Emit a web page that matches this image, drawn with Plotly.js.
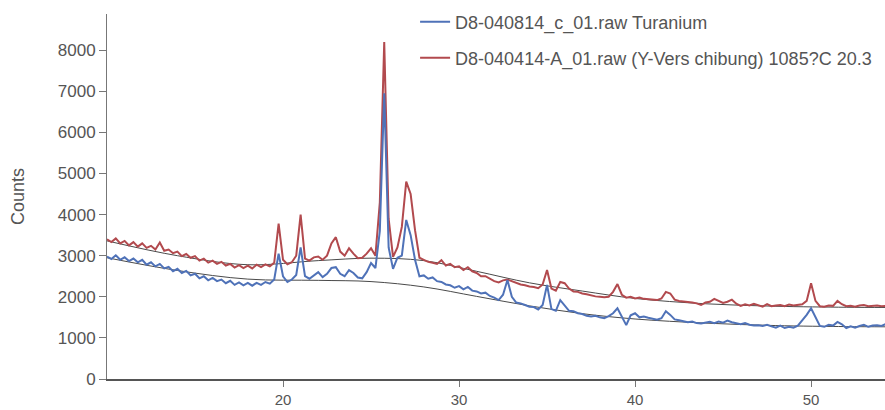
<!DOCTYPE html>
<html>
<head>
<meta charset="utf-8">
<script src="https://cdn.plot.ly/plotly-3.0.1.min.js"></script>
<style>html,body{margin:0;padding:0;background:#fff;}#chart{width:885px;height:410px;}</style>
</head>
<body>
<div id="chart"></div>
<script>
// 2-theta sampling grid (degrees)
const twoTheta = [
10.00,10.25,10.50,10.75,11.00,11.25,11.50,11.75,12.00,12.25,12.50,12.75,13.00,13.25,13.50,13.75,
14.00,14.25,14.50,14.75,15.00,15.25,15.50,15.75,16.00,16.25,16.50,16.75,17.00,17.25,17.50,17.75,
18.00,18.25,18.50,18.75,19.00,19.25,19.50,19.75,20.00,20.25,20.50,20.75,21.00,21.25,21.50,21.75,
22.00,22.25,22.50,22.75,23.00,23.25,23.50,23.75,24.00,24.25,24.50,24.75,25.00,25.25,25.50,25.75,
26.00,26.25,26.50,26.75,27.00,27.25,27.50,27.75,28.00,28.25,28.50,28.75,29.00,29.25,29.50,29.75,
30.00,30.25,30.50,30.75,31.00,31.25,31.50,31.75,32.00,32.25,32.50,32.75,33.00,33.25,33.50,33.75,
34.00,34.25,34.50,34.75,35.00,35.25,35.50,35.75,36.00,36.25,36.50,36.75,37.00,37.25,37.50,37.75,
38.00,38.25,38.50,38.75,39.00,39.25,39.50,39.75,40.00,40.25,40.50,40.75,41.00,41.25,41.50,41.75,
42.00,42.25,42.50,42.75,43.00,43.25,43.50,43.75,44.00,44.25,44.50,44.75,45.00,45.25,45.50,45.75,
46.00,46.25,46.50,46.75,47.00,47.25,47.50,47.75,48.00,48.25,48.50,48.75,49.00,49.25,49.50,49.75,
50.00,50.25,50.50,50.75,51.00,51.25,51.50,51.75,52.00,52.25,52.50,52.75,53.00,53.25,53.50,53.75,
54.00,54.25
];
// D8-040814_c_01.raw Turanium
const countsBlue = [
2980,2920,3010,2900,2960,2870,2930,2840,2900,2780,2840,2740,2800,2690,2730,2620,
2680,2580,2630,2520,2560,2450,2500,2400,2460,2380,2420,2330,2390,2290,2350,2280,
2340,2270,2340,2290,2360,2320,2420,3050,2500,2360,2420,2530,3200,2500,2440,2520,
2600,2480,2560,2700,2720,2560,2500,2650,2580,2470,2450,2600,2820,2700,3600,6950,
3200,2680,2950,3000,3870,3500,2900,2500,2520,2440,2470,2380,2360,2300,2280,2220,
2260,2180,2240,2150,2130,2080,2100,2020,1980,1920,2050,2410,2000,1860,1840,1800,
1760,1750,1690,1800,2290,1700,1660,1920,1780,1660,1650,1600,1580,1540,1520,1540,
1500,1480,1530,1600,1720,1500,1310,1550,1600,1500,1520,1490,1460,1440,1480,1650,
1560,1450,1430,1400,1380,1400,1360,1350,1370,1390,1360,1400,1370,1420,1380,1350,
1330,1360,1320,1300,1310,1290,1320,1280,1250,1300,1240,1270,1250,1300,1420,1560,
1720,1500,1290,1270,1320,1300,1390,1330,1240,1280,1250,1290,1320,1270,1300,1310,
1290,1340
];
// D8-040414-A_01.raw (Y-Verschibung)
const countsRed = [
3400,3330,3420,3300,3360,3250,3330,3220,3300,3190,3240,3150,3320,3120,3150,3060,
3100,2990,3040,2950,2990,2880,2930,2830,2880,2800,2850,2760,2800,2710,2770,2700,
2760,2690,2780,2720,2790,2740,2830,3780,2900,2790,2840,3000,4000,2930,2880,2960,
2980,2900,3000,3300,3450,3100,3000,3180,3050,2940,2950,3050,3180,3000,4300,8200,
3900,2970,3200,3700,4800,4500,3620,2950,2900,2850,2830,2800,2890,2760,2800,2720,
2740,2650,2720,2620,2580,2500,2500,2430,2380,2350,2400,2420,2380,2330,2300,2280,
2250,2240,2210,2300,2650,2200,2150,2360,2330,2200,2130,2120,2080,2060,2030,2010,
2000,1990,2000,2120,2310,2050,1980,2000,1960,1980,1950,1940,1930,1920,1960,2120,
2080,1930,1900,1890,1880,1860,1840,1800,1860,1880,1950,1900,1850,1880,1930,1830,
1780,1820,1790,1830,1800,1760,1820,1770,1790,1800,1770,1810,1790,1800,1820,1900,
2330,1900,1770,1760,1790,1780,1900,1820,1770,1780,1760,1790,1800,1770,1780,1790,
1770,1780
];
// fitted backgrounds
const bgTheta = [10, 14, 18, 22, 25, 28, 31, 34, 37, 40, 44, 48, 52, 54.3];
const bgBlue  = [2950, 2640, 2430, 2400, 2370, 2240, 2010, 1780, 1590, 1460, 1360, 1300, 1275, 1270];
const bgRed   = [3360, 3000, 2780, 2880, 2940, 2880, 2620, 2340, 2140, 1960, 1830, 1770, 1745, 1740];

const yTicks = [0, 1000, 2000, 3000, 4000, 5000, 6000, 7000, 8000];
const xTicks = [20, 30, 40, 50];

const blueC = '#4f72b8';
const redC = '#b24a4e';
const bgC = '#4a4a4a';
const font = 'Liberation Sans, Arial, sans-serif';

const traces = [
  {x: bgTheta, y: bgBlue, mode: 'lines', line: {color: bgC, width: 1, shape: 'spline'}, showlegend: false, hoverinfo: 'skip'},
  {x: bgTheta, y: bgRed, mode: 'lines', line: {color: bgC, width: 1, shape: 'spline'}, showlegend: false, hoverinfo: 'skip'},
  {x: twoTheta, y: countsRed, mode: 'lines', name: 'D8-040414-A_01.raw (Y-Vers chibung) 1085?C 20.3',
   line: {color: redC, width: 2}, legend: 'legend2'},
  {x: twoTheta, y: countsBlue, mode: 'lines', name: 'D8-040814_c_01.raw Turanium',
   line: {color: blueC, width: 2}, legend: 'legend'}
];

const legFont = {size: 18, color: '#555', family: font};
const layout = {
  width: 885, height: 410,
  margin: {l: 107, r: 0, t: 14, b: 31},
  paper_bgcolor: '#fff', plot_bgcolor: '#fff',
  font: {family: font, color: '#555', size: 14},
  xaxis: {
    range: [10, 54.2], tickvals: xTicks, ticks: 'outside', ticklen: 6, tickcolor: '#777',
    showline: true, linecolor: '#555', linewidth: 1.5, showgrid: false, zeroline: false,
    tickfont: {size: 15, color: '#555'}
  },
  yaxis: {
    range: [0, 8880], tickvals: yTicks, ticks: 'outside', ticklen: 7, tickcolor: '#777',
    showline: true, linecolor: '#777', linewidth: 1, showgrid: false, zeroline: false,
    tickfont: {size: 17, color: '#555'},
    title: {text: 'Counts', font: {size: 18, color: '#555'}, standoff: 28}
  },
  legend: {x: 0.396, y: 0.978, xanchor: 'left', yanchor: 'middle', bgcolor: 'rgba(0,0,0,0)', font: legFont},
  legend2: {x: 0.396, y: 0.879, xanchor: 'left', yanchor: 'middle', bgcolor: 'rgba(0,0,0,0)', font: legFont},
  showlegend: true
};

Plotly.newPlot('chart', traces, layout, {displayModeBar: false, staticPlot: true});
</script>
</body>
</html>
